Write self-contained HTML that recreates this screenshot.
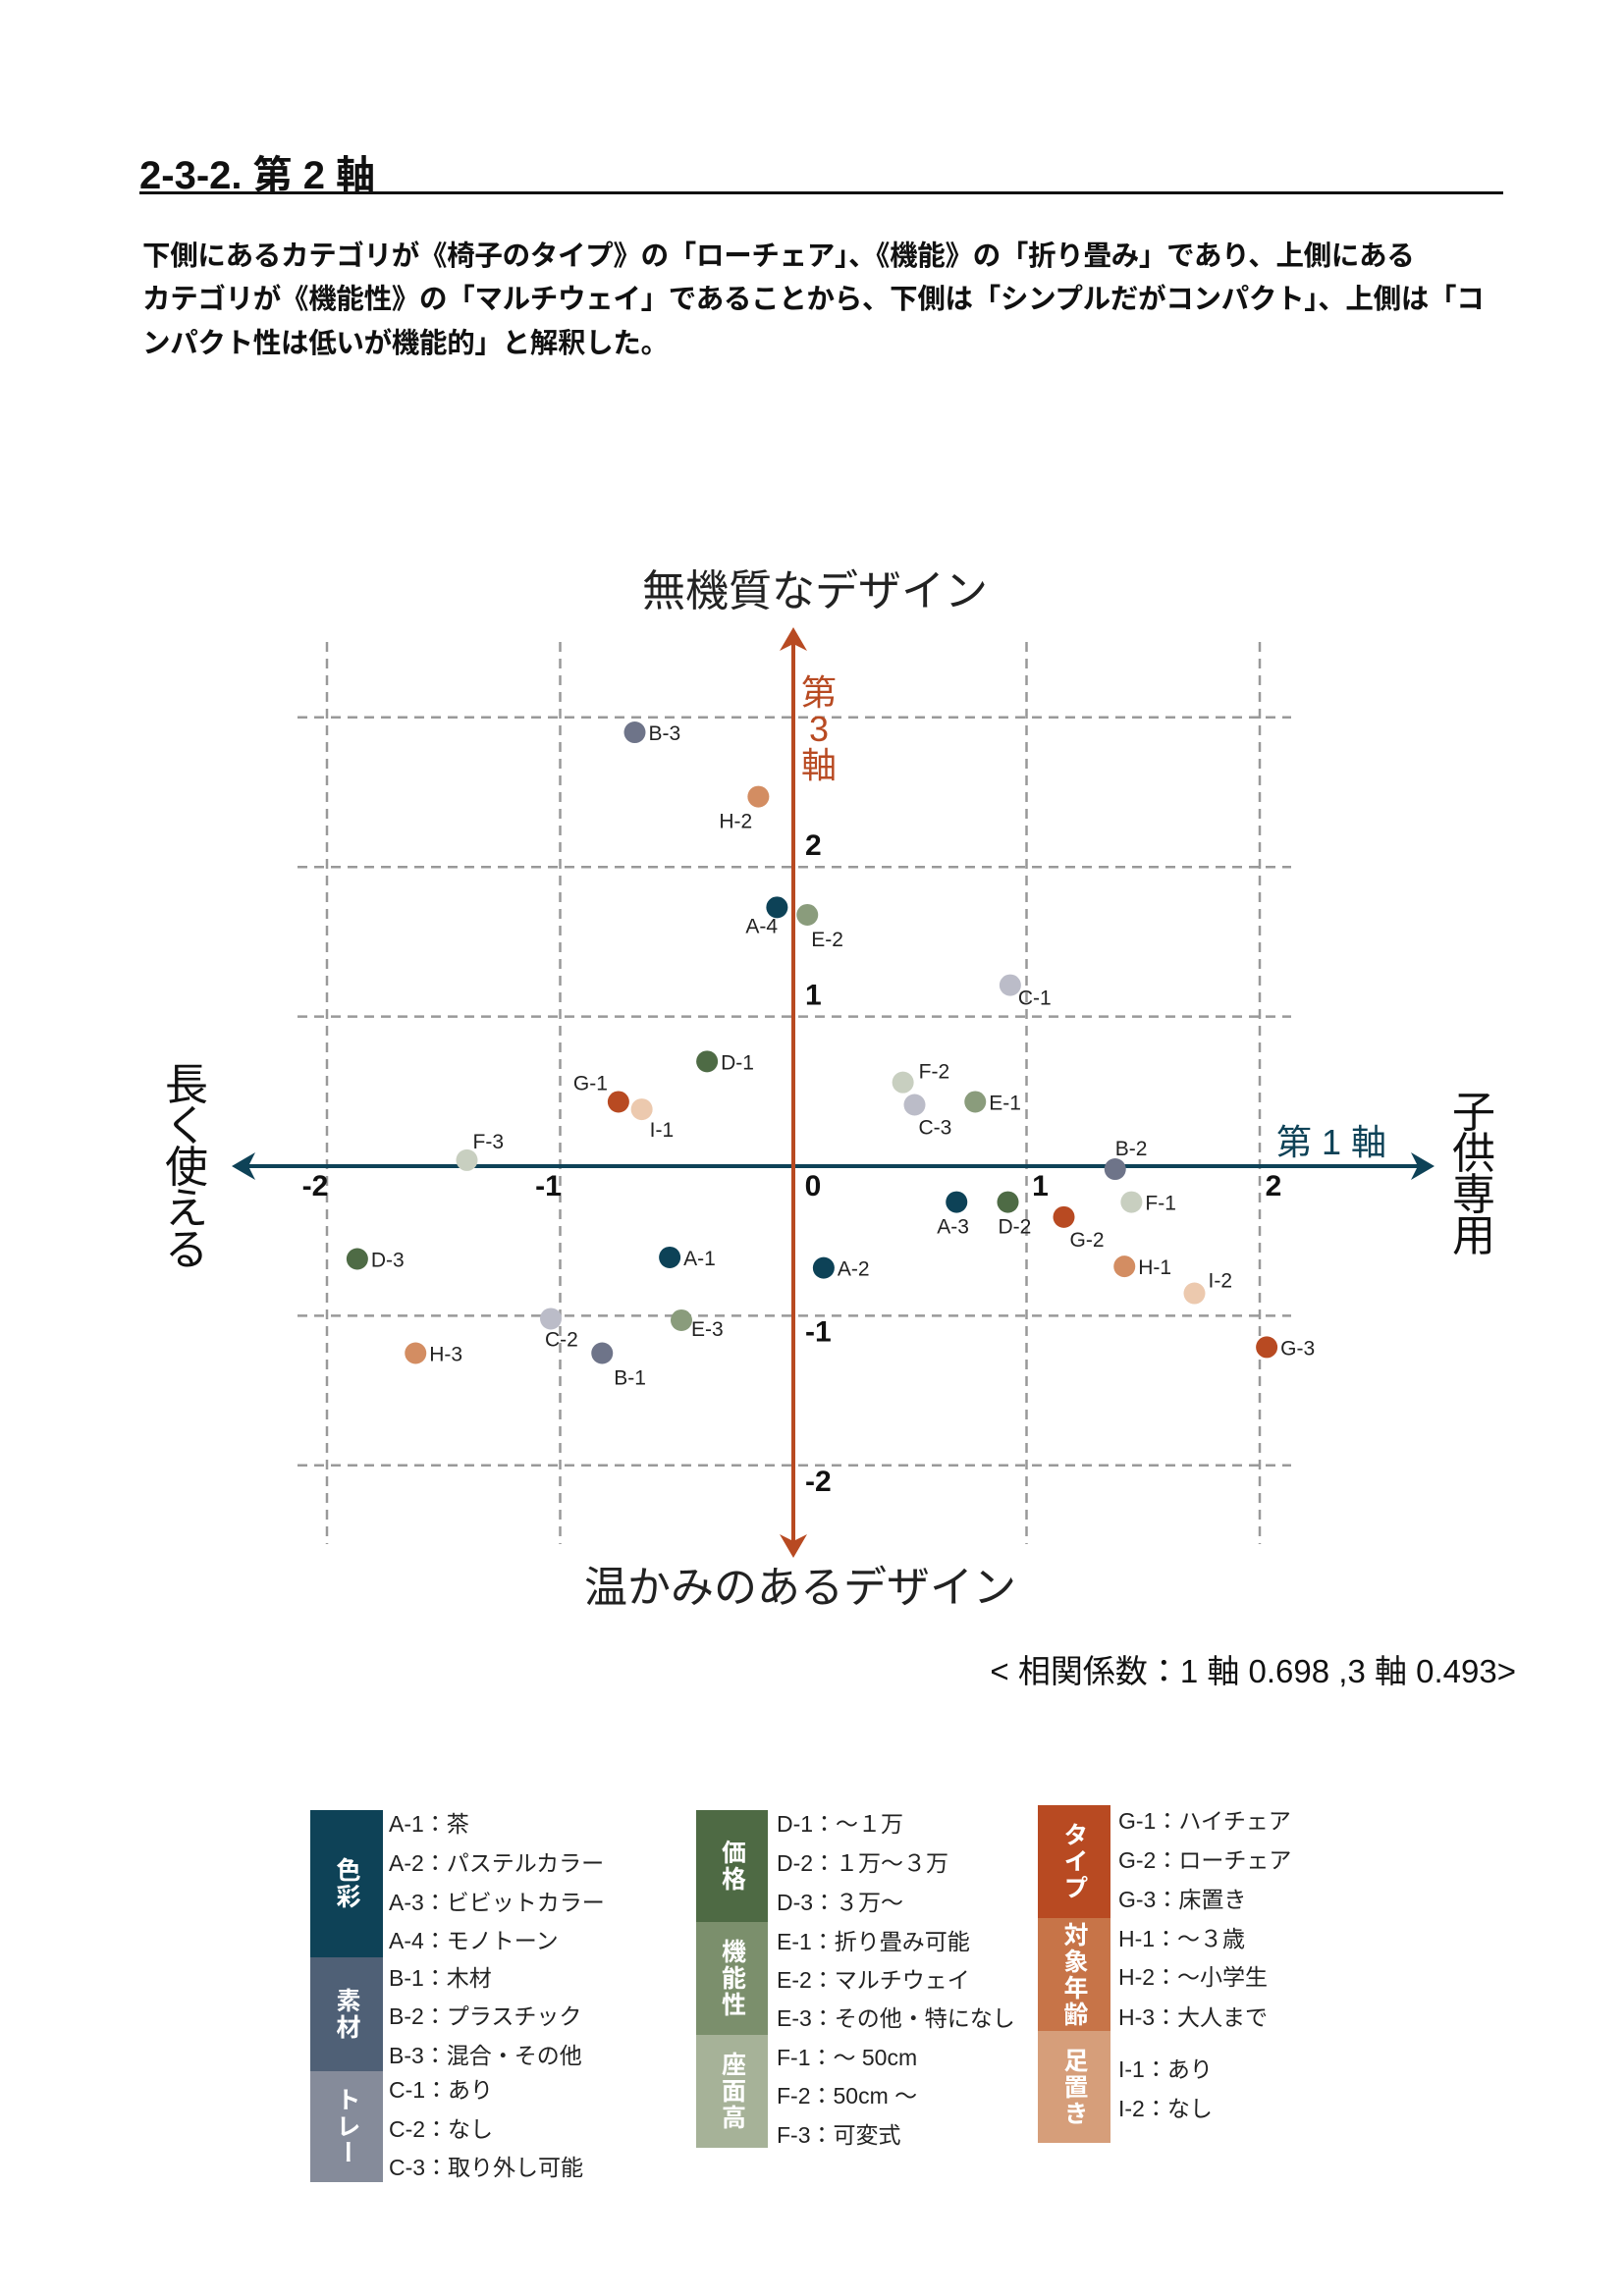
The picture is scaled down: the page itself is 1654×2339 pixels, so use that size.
<!DOCTYPE html>
<html><head><meta charset="utf-8">
<style>
body{margin:0;width:1654px;height:2339px;background:#fff;position:relative;overflow:hidden;font-family:"Liberation Sans","Noto Sans CJK JP",sans-serif;color:#111}
.abs{position:absolute;white-space:nowrap}
.p{font-size:28.5px;font-weight:bold;left:145px;letter-spacing:-0.3px}
.lg{font-size:23px;color:#222}
.box{position:absolute;color:#fff;font-size:25px;font-weight:bold;display:flex;align-items:center;justify-content:center;writing-mode:vertical-rl;letter-spacing:2px}
</style></head><body>
<div class="abs" style="left:142px;top:146px;font-size:40px;font-weight:bold">2-3-2. 第 2 軸</div>
<div class="abs" style="left:142px;top:195px;width:1389px;height:3px;background:#111"></div>
<div class="abs p" style="top:238px">下側にあるカテゴリが《椅子のタイプ》の「ローチェア」、《機能》の「折り畳み」であり、上側にある</div>
<div class="abs p" style="top:282px">カテゴリが《機能性》の「マルチウェイ」であることから、下側は「シンプルだがコンパクト」、上側は「コ</div>
<div class="abs p" style="top:327px">ンパクト性は低いが機能的」と解釈した。</div>

<svg id="chart" width="1654" height="1800" style="position:absolute;left:0;top:0" font-family="Liberation Sans, Noto Sans CJK JP, sans-serif"></svg>

<div class="abs" style="right:110px;top:1676px;font-size:33px">&lt; 相関係数：1 軸 0.698 ,3 軸 0.493&gt;</div>

<!-- legend -->
<div class="box" style="left:316px;top:1844px;width:74px;height:150px;background:#0e4257">色彩</div>
<div class="box" style="left:316px;top:1994px;width:74px;height:116px;background:#4f6076">素材</div>
<div class="box" style="left:316px;top:2110px;width:74px;height:113px;background:#858b9a">トレー</div>
<div class="box" style="left:709px;top:1844px;width:73px;height:114px;background:#4e6a44">価格</div>
<div class="box" style="left:709px;top:1958px;width:73px;height:115px;background:#7b8f6c">機能性</div>
<div class="box" style="left:709px;top:2073px;width:73px;height:115px;background:#a6b298">座面高</div>
<div class="box" style="left:1057px;top:1839px;width:74px;height:115px;background:#b84a22">タイプ</div>
<div class="box" style="left:1057px;top:1954px;width:74px;height:115px;background:#c77448">対象年齢</div>
<div class="box" style="left:1057px;top:2069px;width:74px;height:114px;background:#d69e7a">足置き</div>
<div id="legend"></div>

<script>
// chart data
const labels = ["B-3","H-2","A-4","E-2","C-1","D-1","F-2","C-3","E-1","G-1","I-1","F-3","B-2","F-1","A-3","D-2","G-2","H-1","I-2","G-3","A-1","A-2","D-3","C-2","E-3","B-1","H-3"];
const axis1 = [-0.68,-0.15,-0.07,0.06,0.93,-0.37,0.47,0.52,0.78,-0.75,-0.65,-1.40,1.38,1.45,0.70,0.92,1.16,1.42,1.72,2.03,-0.53,0.13,-1.87,-1.04,-0.48,-0.82,-1.62];
const axis3 = [2.90,2.47,1.73,1.68,1.21,0.70,0.56,0.41,0.43,0.43,0.38,0.04,-0.02,-0.24,-0.24,-0.24,-0.34,-0.67,-0.85,-1.21,-0.61,-0.68,-0.62,-1.02,-1.03,-1.25,-1.25];
const xTicks = ["-2","-1","0","1","2"];
const yTicks = ["2","1","-1","-2"];
const xTickVals = [-2,-1,0,1,2];
const yTickVals = [2,1,-1,-2];
const xGridVals = [-2,-1,1,2];
const yGridVals = [3,2,1,-1,-2];

const colors = {A:"#0d4257",B:"#6e7489",C:"#bbbcc8",D:"#4e6b45",E:"#8a9c7c",F:"#c8cfc0",G:"#b84a22",H:"#d38d62",I:"#ecc9ae"};
const labelPos = {"H-2":[-40,32],"A-4":[-32,26],"E-2":[4,32],"C-1":[8,20],"C-3":[4,30],"G-1":[-46,-12],"I-1":[8,28],"F-3":[6,-12],"B-2":[0,-14],"A-3":[-20,32],"D-2":[-10,32],"G-2":[6,30],"I-2":[14,-6],"C-2":[-6,28],"B-1":[12,32],"E-3":[10,16],"F-2":[16,-4]};

const CX=808, CY=1188, UX=237.5, UY=152.4;
const sx=v=>CX+v*UX, sy=v=>CY-v*UY;
const svg=document.getElementById('chart');
const NS="http://www.w3.org/2000/svg";
function mk(tag,attrs){const e=document.createElementNS(NS,tag);for(const k in attrs)e.setAttribute(k,attrs[k]);svg.appendChild(e);return e;}

xGridVals.forEach(v=>{
  const l=mk('line',{x1:sx(v),x2:sx(v),y1:654,y2:1573,stroke:'#999','stroke-width':2.5,'stroke-dasharray':'10,7'});
  
  
});
yGridVals.forEach(v=>{
  const l=mk('line',{x1:303,x2:1315,y1:sy(v),y2:sy(v),stroke:'#999','stroke-width':2.5,'stroke-dasharray':'10,7'});
  
  
});
// axes
let ax=mk('line',{x1:246,x2:1452,y1:CY,y2:CY,stroke:'#0e4257','stroke-width':4});


let ah=mk('path',{d:`M236 ${CY} l24 -14 l-7 14 l7 14 z M1461 ${CY} l-24 -14 l7 14 l-7 14 z`,fill:'#0e4257'});


let ay=mk('line',{x1:CX,x2:CX,y1:649,y2:1578,stroke:'#b84a22','stroke-width':4});


let avh=mk('path',{d:`M${CX} 639 l-14 24 l14 -7 l14 7 z M${CX} 1587 l-14 -24 l14 7 l14 -7 z`,fill:'#b84a22'});



xTicks.forEach((t,i)=>{
  const e=mk('text',{x:sx(xTickVals[i])+(xTickVals[i]===0?20:xTickVals[i]>0?14:-12),y:CY+30,'font-size':30,'font-weight':'bold','text-anchor':'middle',fill:'#111'});
  e.textContent=t;
  
  
});
yTicks.forEach((t,i)=>{
  const v=yTickVals[i];
  const e=mk('text',{x:CX+12,y:v>0?sy(v)-12:sy(v)+26,'font-size':30,'font-weight':'bold',fill:'#111'});
  e.textContent=t;
  
  
});

function txt(s,x,y,size,fill,name,anchor){const e=mk('text',{x:x,y:y,'font-size':size,fill:fill,'text-anchor':anchor||'middle'});e.textContent=s;return e;}
txt('無機質なデザイン',830,617,44,'#222','top-pole-title');
txt('温かみのあるデザイン',815,1632,44,'#222','bottom-pole-title');
txt('第 1 軸',1356,1176,36,'#0e4257','axis-1-title');
['長','く','使','え','る'].forEach((c,i)=>txt(c,190,1120+i*42,44,'#111','left-pole-title'));
['子','供','専','用'].forEach((c,i)=>txt(c,1501,1148+i*42,44,'#111','right-pole-title'));
['第','3','軸'].forEach((c,i)=>txt(c,834,718+i*37,36,'#b84a22','axis-3-title'));

labels.forEach((lab,i)=>{
  const x=sx(axis1[i]), y=sy(axis3[i]);
  const c=mk('circle',{cx:x,cy:y,r:11,fill:colors[lab[0]]});
  
  
  const o=labelPos[lab]||[14,8];
  const t=mk('text',{x:x+o[0],y:y+o[1],'font-size':21,fill:'#222'});
  t.textContent=lab;
  
  
});

// legend items
const legendText=[
 [396,[1853,1893,1933,1972,2010,2049,2089,2124,2164,2203],["A-1：茶","A-2：パステルカラー","A-3：ビビットカラー","A-4：モノトーン","B-1：木材","B-2：プラスチック","B-3：混合・その他","C-1：あり","C-2：なし","C-3：取り外し可能"]],
 [791,[1853,1893,1933,1973,2012,2051,2091,2130,2170],["D-1：～１万","D-2：１万～３万","D-3：３万～","E-1：折り畳み可能","E-2：マルチウェイ","E-3：その他・特になし","F-1：～ 50cm","F-2：50cm ～","F-3：可変式"]],
 [1139,[1850,1890,1930,1970,2009,2050,2103,2143],["G-1：ハイチェア","G-2：ローチェア","G-3：床置き","H-1：～３歳","H-2：～小学生","H-3：大人まで","I-1：あり","I-2：なし"]]
];
const lg=document.getElementById('legend');
legendText.forEach(col=>{
  col[2].forEach((s,i)=>{
    const d=document.createElement('div');
    d.className='abs lg';
    d.style.left=col[0]+'px';
    d.style.top=(col[1][i]-14)+'px';
    d.textContent=s;
    
    
    lg.appendChild(d);
  });
});
</script>
</body></html>
